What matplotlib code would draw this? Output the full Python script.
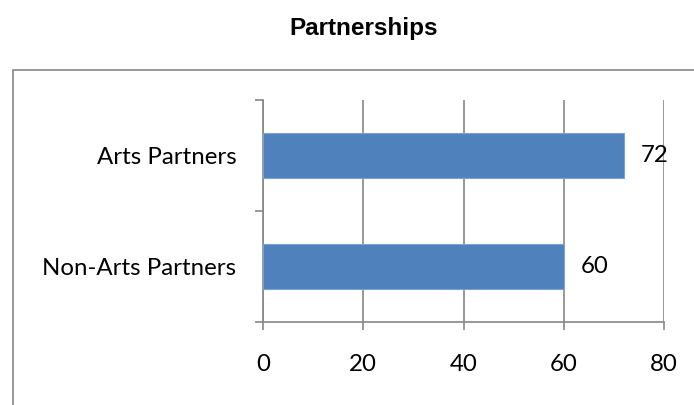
import matplotlib.pyplot as plt
from matplotlib.patches import Rectangle

categories = ["Non-Arts Partners", "Arts Partners"]
values = [60, 72]
xticks = [0, 20, 40, 60, 80]

plt.rcParams['font.family'] = ['Lato', 'DejaVu Sans']
grey = '#868686'
fs = 17.3

fig = plt.figure(figsize=(6.94, 4.05), dpi=100)

# outer chart frame (runs off right and bottom edge)
fig.patches.append(Rectangle((13 / 694, -0.2), 1.0, 0.2 + 1 - 70 / 405,
                             transform=fig.transFigure, fill=False,
                             edgecolor=grey, linewidth=1.2))

fig.text(0.524, 1 - 28 / 405, "Partnerships", ha='center', va='center',
         fontsize=17.5, fontweight='bold', family=['Liberation Sans', 'DejaVu Sans'])

ax = fig.add_axes([263 / 694, 1 - 322 / 405, (664 - 263) / 694, (322 - 100) / 405])
pos = list(range(len(categories)))
bars = ax.barh(pos, values, height=0.4, color='#4F81BD', edgecolor='#7EA1CE',
               linewidth=0.8, zorder=3)
ax.bar_label(bars, labels=[str(v) for v in values], padding=12, fontsize=fs)

ax.set_xlim(0, 80)
ax.set_ylim(-0.5, 1.5)
ax.set_xticks(xticks)
ax.set_xticklabels([str(t) for t in xticks], fontsize=fs)
ax.set_yticks(pos)
ax.set_yticklabels(categories, fontsize=fs)
ax.set_yticks([-0.5, 0.5, 1.5], minor=True)
ax.tick_params(axis='y', which='major', length=0, pad=19)
ax.tick_params(axis='y', which='minor', length=6, color=grey, width=1.2, direction='out')
ax.tick_params(axis='x', length=6, color=grey, width=1.2, pad=17, direction='out')

ax.grid(axis='x', color=grey, linewidth=1.2, zorder=0)
for s in ['top', 'right']:
    ax.spines[s].set_visible(False)
for s in ['left', 'bottom']:
    ax.spines[s].set_color(grey)
    ax.spines[s].set_linewidth(1.2)

fig.savefig('out.png', dpi=100)
